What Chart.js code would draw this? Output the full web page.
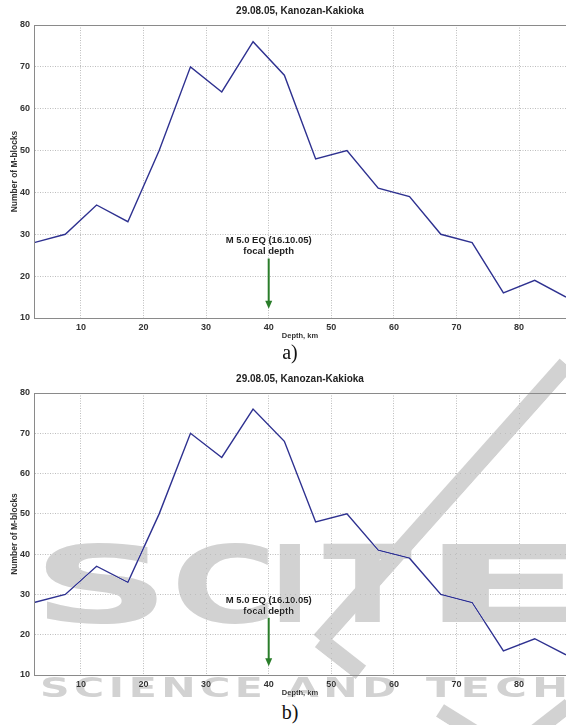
<!DOCTYPE html>
<html>
<head>
<meta charset="utf-8">
<script src="https://cdn.jsdelivr.net/npm/chart.js@4.4.1/dist/chart.umd.min.js"></script>
<style>
    body { margin: 0; background: #fff; width: 566px; height: 725px; overflow: hidden; position: relative; font-family: "Liberation Sans", Arial, sans-serif; }
    canvas { position: absolute; left: 0; }
    .caption { position: absolute; left: 270px; width: 40px; text-align: center; font-family: "Liberation Serif", "Times New Roman", serif; font-size: 20px; color: #111; }
    .wm { position: absolute; color: #d2d2d2; mix-blend-mode: darken; font-family: "DejaVu Sans", sans-serif; font-weight: bold; white-space: nowrap; pointer-events: none; line-height: 1; transform-origin: 0 0; }
    .band { position: absolute; background: #d2d2d2; mix-blend-mode: darken; transform-origin: 0 50%; pointer-events: none; }
</style>
</head>
<body>
<canvas id="chartA" width="566" height="344" style="top:0"></canvas>
<div class="caption" style="top:341px">a)</div>
<canvas id="chartB" width="566" height="333" style="top:368px"></canvas>
<div class="caption" style="top:701px">b)</div>

<!-- publisher watermark over figure b) -->
<div class="wm" style="left:32px; top:532px; font-size:107px; transform:scaleX(1.8)">S</div>
<div class="wm" style="left:171px; top:532px; font-size:107px; transform:scaleX(1.35)">C</div>
<div class="wm" style="left:270px; top:532px; font-size:107px;">I</div>
<div class="wm" style="left:323px; top:532px; font-size:107px; transform:scaleX(1.22)">T</div>
<div class="wm" style="left:420px; top:532px; font-size:107px; transform:scaleX(2.3)">E</div>
<div class="wm" style="left:40px; top:674px; font-size:27px; letter-spacing:3px; transform:scaleX(1.52)">SCIENCE</div>
<div class="wm" style="left:287px; top:674px; font-size:27px; letter-spacing:3px; transform:scaleX(1.52)">AND</div>
<div class="wm" style="left:426px; top:674px; font-size:27px; letter-spacing:3.2px; transform:scaleX(1.6)">TECH</div>
<div class="band" style="left:320px; top:632px; width:370px; height:17px; transform:rotate(-48.3deg);"></div>
<div class="band" style="left:320px; top:632px; width:52px; height:17px; transform:rotate(38deg);"></div>
<div class="band" style="left:440px; top:703px; width:40px; height:15px; transform:rotate(32deg);"></div>
<div class="band" style="left:534px; top:725px; width:45px; height:15px; transform:rotate(-38deg);"></div>

<script>
// depth bins (km) and number of M-blocks
const depthKm = [2.5, 7.5, 12.5, 17.5, 22.5, 27.5, 32.5, 37.5, 42.5, 47.5, 52.5, 57.5, 62.5, 67.5, 72.5, 77.5, 82.5, 87.5];
const mBlocks = [28, 30, 37, 33, 50, 70, 64, 76, 68, 48, 50, 41, 39, 30, 28, 16, 19, 15];
const xTicks = [10, 20, 30, 40, 50, 60, 70, 80];
const yTicks = [10, 20, 30, 40, 50, 60, 70, 80];

const chartTitle = '29.08.05, Kanozan-Kakioka';
const quakeDepth = 40;
const quakeText = ['M 5.0 EQ (16.10.05)', 'focal depth'];
const quakeTextLevel = [28.6, 25.8];
const arrowFrom = 24.2;
const arrowTo = 12.2;

const lineColor = '#2e3190';
const arrowColor = '#2a7d2a';

const figurePlugin = {
    id: 'figure',
    afterDraw(chart) {
        const ctx = chart.ctx;
        const a = chart.chartArea;
        const xs = chart.scales.x, ys = chart.scales.y;
        ctx.save();
        // box
        ctx.strokeStyle = '#8a8a8a';
        ctx.lineWidth = 1;
        ctx.strokeRect(a.left + 0.5, a.top + 0.5, a.right - a.left, a.bottom - a.top);
        // title
        ctx.fillStyle = '#222';
        ctx.font = 'bold 10px "Liberation Sans", Arial, sans-serif';
        ctx.textAlign = 'center';
        ctx.textBaseline = 'middle';
        ctx.fillText(chartTitle, (a.left + a.right) / 2, a.top - 14);
        // focal depth note
        const x = xs.getPixelForValue(quakeDepth);
        ctx.font = 'bold 9.5px "Liberation Sans", Arial, sans-serif';
        quakeText.forEach((t, i) => ctx.fillText(t, x, ys.getPixelForValue(quakeTextLevel[i])));
        const y0 = ys.getPixelForValue(arrowFrom), y1 = ys.getPixelForValue(arrowTo);
        ctx.strokeStyle = arrowColor;
        ctx.fillStyle = arrowColor;
        ctx.lineWidth = 2;
        ctx.beginPath();
        ctx.moveTo(x, y0);
        ctx.lineTo(x, y1 - 6);
        ctx.stroke();
        ctx.beginPath();
        ctx.moveTo(x - 3.5, y1 - 8);
        ctx.lineTo(x + 3.5, y1 - 8);
        ctx.lineTo(x, y1);
        ctx.closePath();
        ctx.fill();
        ctx.restore();
    }
};

function makeChart(id) {
    const ctx = document.getElementById(id).getContext('2d');
    return new Chart(ctx, {
        type: 'line',
        data: {
            datasets: [{
                data: depthKm.map((d, i) => ({ x: d, y: mBlocks[i] })),
                borderColor: lineColor,
                borderWidth: 1.4,
                pointRadius: 0,
                tension: 0,
                fill: false
            }]
        },
        options: {
            responsive: false,
            animation: false,
            events: [],
            layout: { padding: { top: 25, right: 0, left: 0, bottom: 0 } },
            plugins: {
                legend: { display: false },
                title: { display: false },
                tooltip: { enabled: false }
            },
            scales: {
                x: {
                    type: 'linear',
                    min: 2.5,
                    max: 87.5,
                    afterBuildTicks: s => { s.ticks = xTicks.map(v => ({ value: v })); },
                    afterFit: s => { s.height = 26; },
                    grid: { color: '#bdbdbd', drawTicks: false },
                    border: { color: '#8a8a8a', dash: [1, 1.5] },
                    ticks: { padding: 4, color: '#333', font: { size: 9, weight: 'bold', family: '"Liberation Sans", Arial' } },
                    title: {
                        display: true,
                        text: 'Depth, km',
                        color: '#333',
                        padding: { top: 0, bottom: 4 },
                        font: { size: 7.5, weight: 'bold', family: '"Liberation Sans", Arial' }
                    }
                },
                y: {
                    min: 10,
                    max: 80,
                    afterBuildTicks: s => { s.ticks = yTicks.map(v => ({ value: v })); },
                    afterFit: s => { s.width = 34; },
                    grid: { color: '#bdbdbd', drawTicks: false },
                    border: { color: '#8a8a8a', dash: [1, 1.5] },
                    ticks: { padding: 4, color: '#333', font: { size: 9, weight: 'bold', family: '"Liberation Sans", Arial' } },
                    title: {
                        display: true,
                        text: 'Number of M-blocks',
                        color: '#333',
                        padding: { top: 10, bottom: 0 },
                        font: { size: 8.5, weight: 'bold', family: '"Liberation Sans", Arial' }
                    }
                }
            }
        },
        plugins: [figurePlugin]
    });
}

makeChart('chartA');
makeChart('chartB');
</script>
</body>
</html>
